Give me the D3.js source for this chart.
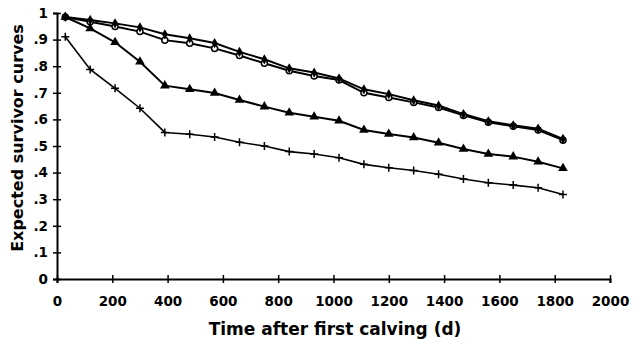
<!DOCTYPE html>
<html><head><meta charset="utf-8">
<script src="https://cdn.jsdelivr.net/npm/d3@7"></script>
<style>body{margin:0;background:#fff}svg{display:block}text{font-family:"DejaVu Sans",sans-serif;font-weight:bold;fill:#000}</style>
</head><body>
<svg id="c" width="633" height="341"></svg>
<script>
const days = [30,120,210,300,390,480,570,660,750,840,930,1020,1110,1200,1290,1380,1470,1560,1650,1740,1830];
const diamondSeries = [.985,.974,.961,.946,.92,.905,.887,.854,.826,.792,.776,.754,.713,.695,.672,.652,.62,.593,.578,.565,.527];
const circleSeries  = [.985,.967,.949,.93,.898,.886,.867,.84,.811,.783,.763,.748,.70,.682,.664,.645,.615,.589,.574,.56,.522];
const triangleSeries= [.985,.942,.89,.817,.727,.713,.699,.673,.648,.625,.61,.595,.56,.545,.532,.512,.489,.47,.46,.441,.416];
const plusSeries    = [.911,.788,.717,.642,.551,.544,.534,.514,.5,.479,.47,.456,.431,.418,.408,.394,.376,.362,.353,.343,.318];
const xTicks = [0,200,400,600,800,1000,1200,1400,1600,1800,2000];
const yTicks = [0,.1,.2,.3,.4,.5,.6,.7,.8,.9,1];
const yTickLabels = ["0",".1",".2",".3",".4",".5",".6",".7",".8",".9","1"];

const svg = d3.select("#c");
const x = d3.scaleLinear().domain([0,2000]).range([57,610]);
const y = d3.scaleLinear().domain([0,1]).range([279,13]);

const FONT = "DejaVu Sans, sans-serif";
// axes
const xa = svg.append("g").attr("transform","translate(0,279)")
  .call(d3.axisBottom(x).tickValues(xTicks).tickSize(4).tickPadding(13).tickFormat(d3.format("d")));
xa.select(".domain").attr("stroke-width",2);
xa.selectAll(".tick line").attr("y1",-4).attr("stroke-width",1.5);
xa.selectAll("text").attr("font-size",13.5).attr("font-family",FONT).attr("font-weight","bold");

const ya = svg.append("g").attr("transform","translate(57,0)")
  .call(d3.axisLeft(y).tickValues(yTicks).tickSize(4).tickPadding(5).tickFormat((d,i)=>yTickLabels[i]));
ya.select(".domain").attr("stroke-width",2);
ya.selectAll(".tick line").attr("x1",4).attr("stroke-width",1.5);
ya.selectAll("text").attr("font-size",13.5).attr("font-family",FONT).attr("font-weight","bold");
ya.selectAll(".domain, .tick line").attr("stroke","#000");
xa.selectAll(".domain, .tick line").attr("stroke","#000");

const line = d3.line().x((d,i)=>x(days[i])).y(d=>y(d));

function drawLine(vals, w){
  svg.append("path").datum(vals).attr("d",line).attr("fill","none").attr("stroke","#000").attr("stroke-width",w);
}
drawLine(plusSeries,1.6);
drawLine(triangleSeries,2);
drawLine(circleSeries,2);
drawLine(diamondSeries,2);

// markers
svg.append("g").selectAll("path").data(plusSeries).join("path")
  .attr("d",(d,i)=>{const cx=x(days[i]),cy=y(d);return `M${cx-4},${cy}H${cx+4}M${cx},${cy-4}V${cy+4}`;})
  .attr("stroke","#000").attr("stroke-width",1.5);
svg.append("g").selectAll("path").data(triangleSeries).join("path")
  .attr("d",d3.symbol(d3.symbolTriangle,40))
  .attr("transform",(d,i)=>`translate(${x(days[i])},${y(d)})`).attr("fill","#000");
svg.append("g").selectAll("circle").data(circleSeries).join("circle")
  .attr("cx",(d,i)=>x(days[i])).attr("cy",d=>y(d)).attr("r",3)
  .attr("fill","#fff").attr("stroke","#000").attr("stroke-width",1.5);
svg.append("g").selectAll("path").data(diamondSeries).join("path")
  .attr("d",d3.symbol(d3.symbolDiamond,30))
  .attr("transform",(d,i)=>`translate(${x(days[i])},${y(d)})`).attr("fill","#000");

// titles
svg.append("text").attr("x",335).attr("y",335).attr("text-anchor","middle").attr("font-size",17).text("Time after first calving (d)");
svg.append("text").attr("transform","translate(23,138) rotate(-90)").attr("text-anchor","middle").attr("font-size",16).text("Expected survivor curves");
</script>
</body></html>
